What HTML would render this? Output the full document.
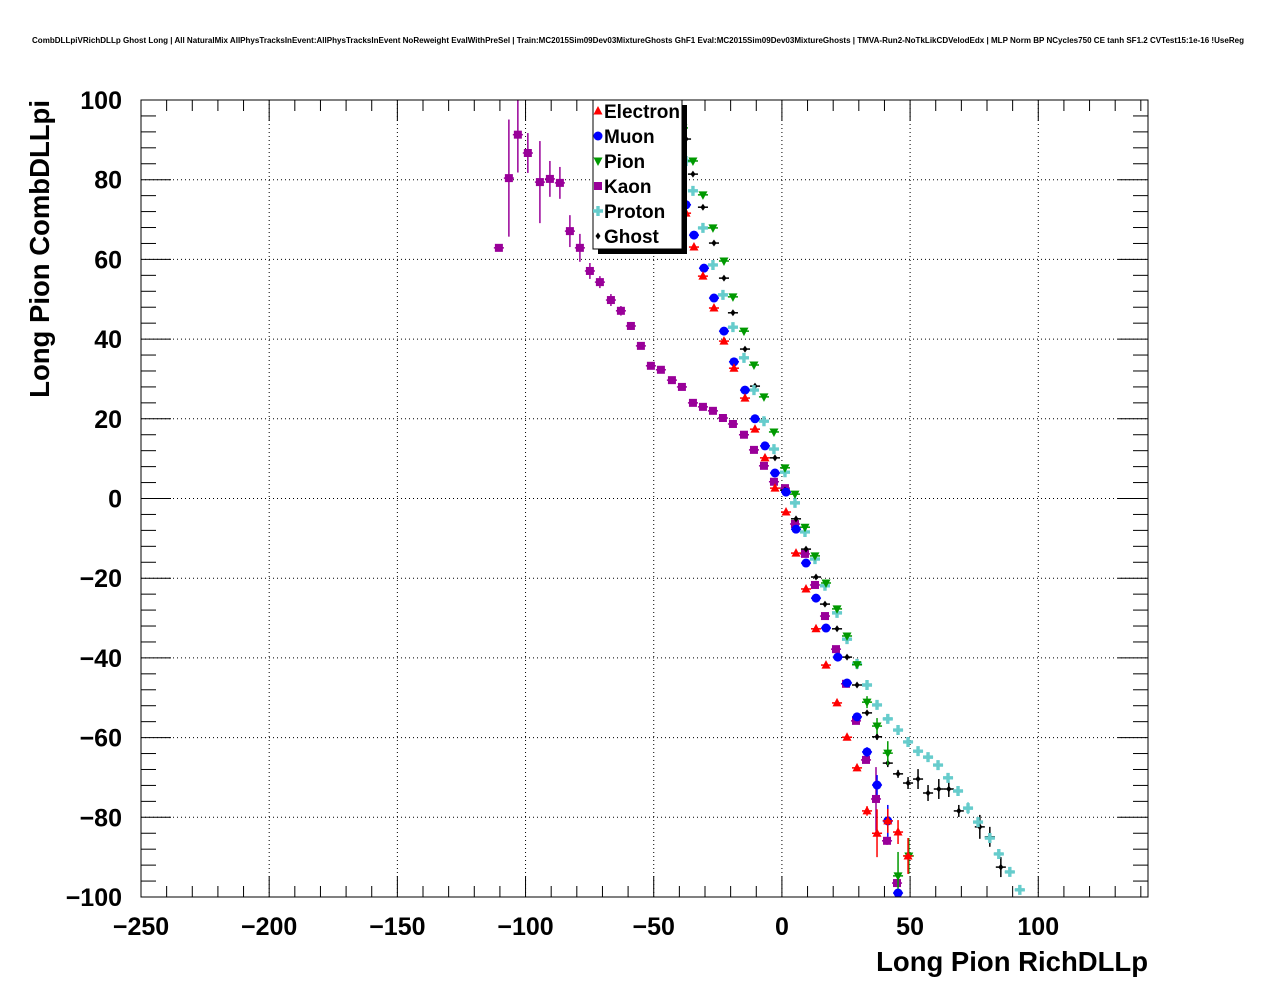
<!DOCTYPE html>
<html><head><meta charset="utf-8">
<style>
html,body{margin:0;padding:0;background:#fff;}
svg{display:block;font-family:"Liberation Sans",sans-serif;}
</style></head>
<body>
<svg id="chart" width="1276" height="996" viewBox="0 0 1276 996" xmlns="http://www.w3.org/2000/svg">
<rect x="0" y="0" width="1276" height="996" fill="#fff"/>
<text x="638" y="43" font-size="8" font-weight="bold" text-anchor="middle" textLength="1212" lengthAdjust="spacingAndGlyphs">CombDLLpiVRichDLLp Ghost Long | All NaturalMix AllPhysTracksInEvent:AllPhysTracksInEvent NoReweight EvalWithPreSel | Train:MC2015Sim09Dev03MixtureGhosts GhF1 Eval:MC2015Sim09Dev03MixtureGhosts | TMVA-Run2-NoTkLikCDVelodEdx | MLP Norm BP NCycles750 CE tanh SF1.2 CVTest15:1e-16 !UseReg</text>
<defs><clipPath id="plotclip"><rect x="141" y="100" width="1007" height="797"/></clipPath></defs>
<g id="grid"></g>
<g id="axes"></g>
<g id="marks" clip-path="url(#plotclip)"></g>
<rect x="141" y="100" width="1007" height="797" fill="none" stroke="#000" stroke-width="1"/>
<text x="1148" y="971" font-size="27.5" font-weight="bold" text-anchor="end">Long Pion RichDLLp</text>
<text transform="translate(49,100) rotate(-90)" font-size="27.5" font-weight="bold" text-anchor="end">Long Pion CombDLLpi</text>
<g id="legend"></g>
</svg>
<script>
const xTicks=[-250,-200,-150,-100,-50,0,50,100];
const yTicks=[-100,-80,-60,-40,-20,0,20,40,60,80,100];
const xMin=-250,xMax=142.8,yMin=-100,yMax=100;
const halfBin=1.96;

const eX=[-37.4,-34.3,-30.8,-26.5,-22.6,-18.7,-14.4,-10.5,-6.6,-2.7,1.6,5.5,9.4,13.3,17.2,21.5,25.4,29.3,33.2,37.1,41.3,45.3,49.2];
const eY=[71.6,63.1,55.8,47.8,39.5,32.7,25.2,17.4,10.2,2.6,-3.4,-13.7,-22.7,-32.7,-41.8,-51.3,-59.9,-67.6,-78.4,-84.0,-80.9,-83.7,-89.7];
const eErr=[0.4,0.4,0.4,0.4,0.4,0.4,0.4,0.4,0.4,0.4,0.4,0.4,0.4,0.4,0.4,0.5,0.6,0.8,1.2,6,3,3,4.5];

const mX=[-37.4,-34.3,-30.4,-26.5,-22.6,-18.7,-14.4,-10.5,-6.6,-2.7,1.6,5.5,9.4,13.3,17.2,21.8,25.4,29.3,33.2,37.1,41.3,45.3];
const mY=[73.7,66.1,57.8,50.3,42.0,34.3,27.2,20.0,13.2,6.4,1.6,-7.7,-16.2,-25.0,-32.5,-39.8,-46.3,-54.8,-63.6,-71.9,-80.9,-99.0];
const mErr=[0.4,0.4,0.4,0.4,0.4,0.4,0.4,0.4,0.4,0.4,0.4,0.4,0.4,0.4,0.4,0.5,0.6,0.8,1.2,2.5,4,1];

const pX=[-38.6,-34.7,-30.8,-26.9,-22.6,-19.1,-14.8,-10.9,-7.0,-3.1,1.2,5.1,9.0,12.9,17.2,21.5,25.4,29.3,33.2,37.1,41.3,45.3,49.5];
const pY=[93.0,84.7,76.2,67.9,59.6,50.6,42.0,33.5,25.5,16.7,7.7,1.1,-7.2,-14.4,-21.2,-27.7,-34.5,-41.7,-51.1,-57.1,-63.9,-94.7,-89.7];
const pErr=[0.4,0.4,0.4,0.4,0.4,0.4,0.4,0.4,0.4,0.4,0.4,0.4,0.4,0.4,0.4,0.5,0.6,0.8,1.5,2,3,6,4.5];

const kX=[-110.4,-106.5,-103.0,-99.1,-94.4,-90.5,-86.6,-82.7,-78.8,-74.9,-71.0,-66.7,-62.8,-58.9,-55.0,-51.1,-47.2,-42.9,-39.0,-34.7,-30.8,-26.9,-23.0,-19.1,-14.8,-10.9,-7.0,-3.1,1.2,5.1,9.0,12.9,16.8,21.1,25.0,28.9,32.8,36.7,41.0,44.9];
const kY=[62.9,80.4,91.3,86.7,79.4,80.2,79.2,67.1,62.9,57.1,54.3,49.8,47.1,43.3,38.3,33.3,32.3,29.7,28.0,24.0,23.0,22.0,20.2,18.7,16.0,12.2,8.2,4.2,2.6,-6.4,-13.9,-21.7,-29.5,-37.8,-46.5,-55.8,-65.6,-75.4,-85.9,-96.5];
const kErr=[0.3,14.7,9.5,5,10.3,4.5,4,4,3.5,2,1.5,1.5,1.2,1,0.8,0.6,0.6,0.5,0.5,0.5,0.5,0.5,0.5,0.5,0.5,0.5,0.5,0.5,0.5,0.5,0.5,0.5,0.5,0.5,0.5,0.6,0.8,8,1,1];

const prX=[-37.4,-34.7,-30.8,-26.9,-23.0,-19.1,-14.8,-10.9,-7.0,-3.1,1.2,5.1,9.0,12.9,16.8,21.5,25.4,29.3,33.2,37.1,41.3,45.3,49.2,53.1,57.0,60.9,64.8,68.7,72.6,76.5,81.1,84.6,88.9,92.8];
const prY=[84.7,77.2,67.9,58.6,51.1,43.0,35.3,27.2,19.4,12.4,6.6,-1.1,-8.4,-15.2,-21.9,-28.7,-35.3,-41.5,-46.8,-51.8,-55.3,-58.1,-61.1,-63.4,-64.9,-66.9,-70.1,-73.4,-77.7,-81.2,-85.2,-89.2,-93.7,-98.2];
const prErr=[1,1,0.5,0.5,0.5,0.5,0.5,0.5,0.5,0.5,0.5,0.5,0.5,0.5,0.5,0.5,0.5,0.5,0.5,0.5,0.5,0.5,0.5,0.5,0.5,0.5,0.5,0.5,1.5,0.8,0.8,0.8,0.8,0.8];

const gX=[-37.4,-34.7,-30.8,-26.5,-22.6,-19.1,-14.4,-10.5,-2.7,1.2,5.5,9.4,13.3,16.8,21.5,25.4,29.3,33.2,37.1,41.3,45.3,49.2,53.1,57.0,61.2,65.1,69.0,77.2,81.1,85.4];
const gY=[90.2,81.4,73.1,64.1,55.3,46.6,37.5,28.2,10.2,2.1,-5.1,-12.7,-19.7,-26.5,-32.7,-39.8,-46.8,-53.8,-59.8,-66.4,-69.1,-71.4,-70.4,-73.9,-72.9,-72.9,-78.4,-82.4,-84.9,-92.5];
const gErr=[0.4,0.4,0.4,0.4,0.4,0.4,0.4,0.4,0.4,0.4,0.4,0.4,0.4,0.4,0.4,0.4,0.5,0.6,0.8,1,1,1.5,2.5,2,2.5,2,1.5,3,2.5,2.5];

const L=141,R=1148,T=100,B=897;
function sx(v){return L+(v-xMin)/(xMax-xMin)*(R-L);}
function sy(v){return B-(v-yMin)/(yMax-yMin)*(B-T);}
const NS="http://www.w3.org/2000/svg";
function mk(tag,attrs,parent){const e=document.createElementNS(NS,tag);for(const k in attrs)e.setAttribute(k,attrs[k]);parent.appendChild(e);return e;}

const grid=document.getElementById('grid');
const axes=document.getElementById('axes');
xTicks.forEach(t=>{
  const x=sx(t);
  if(t>xMin){const g=mk('line',{x1:x,x2:x,y1:T,y2:B,stroke:'#000','stroke-width':1,'stroke-dasharray':'1,3'},grid);
  
  }
  const lb=mk('text',{x:x,y:935,'font-size':25,'font-weight':'bold','text-anchor':'middle'},axes);
  
  
  lb.textContent=(t<0?'\u2212'+(-t):String(t));
});
yTicks.forEach(t=>{
  const y=sy(t);
  if(t>yMin&&t<yMax){const g=mk('line',{x1:L,x2:R,y1:y,y2:y,stroke:'#000','stroke-width':1,'stroke-dasharray':'1,3'},grid);
  
  }
  const lb=mk('text',{x:122,y:y+9,'font-size':25,'font-weight':'bold','text-anchor':'end'},axes);
  
  
  lb.textContent=(t<0?'\u2212'+(-t):String(t));
});
for(let v=-250;v<=140;v+=10){
  const x=sx(v);const len=(v%50===0)?21:11;
  const a=mk('line',{x1:x,x2:x,y1:B,y2:B-len,stroke:'#000','stroke-width':1},axes);
  
  
  const b=mk('line',{x1:x,x2:x,y1:T,y2:T+len,stroke:'#000','stroke-width':1},axes);
  
  
}
for(let v=-100;v<=100;v+=4){
  const y=sy(v);const len=(v%20===0)?30:15;
  const a=mk('line',{x1:L,x2:L+len,y1:y,y2:y,stroke:'#000','stroke-width':1},axes);
  
  
  const b=mk('line',{x1:R,x2:R-len,y1:y,y2:y,stroke:'#000','stroke-width':1},axes);
  
  
}

function marker(kind,x,y,color,parent){
  let e;
  if(kind==='tri-up') e=mk('polygon',{points:`${x},${y-5} ${x-4.5},${y+3.5} ${x+4.5},${y+3.5}`,fill:color},parent);
  else if(kind==='tri-down') e=mk('polygon',{points:`${x},${y+5} ${x-4.5},${y-3.5} ${x+4.5},${y-3.5}`,fill:color},parent);
  else if(kind==='circle') e=mk('circle',{cx:x,cy:y,r:4.5,fill:color},parent);
  else if(kind==='square') e=mk('rect',{x:x-4,y:y-4,width:8,height:8,fill:color},parent);
  else if(kind==='cross') e=mk('path',{d:`M${x-5},${y-1.7}h3.3v-3.3h3.4v3.3h3.3v3.4h-3.3v3.3h-3.4v-3.3h-3.3z`,fill:color},parent);
  else e=mk('polygon',{points:`${x},${y-3.5} ${x+2.5},${y} ${x},${y+3.5} ${x-2.5},${y}`,fill:color},parent);
  return e;
}
const marks=document.getElementById('marks');
function series(name,xs,ys,errs,kind,color){
  const g=mk('g',{},marks);
  
  
  for(let i=0;i<xs.length;i++){
    const x=sx(xs[i]),y=sy(ys[i]);
    const h=mk('line',{x1:sx(xs[i]-halfBin),x2:sx(xs[i]+halfBin),y1:y,y2:y,stroke:color,'stroke-width':1.5},g);
    
    
    const v=mk('line',{x1:x,x2:x,y1:sy(ys[i]+errs[i]),y2:sy(ys[i]-errs[i]),stroke:color,'stroke-width':1.5},g);
    
    
    const m=marker(kind,x,y,color,g);
    
    
  }
}
series('kaon',kX,kY,kErr,'square','#990099');
series('ghost',gX,gY,gErr,'diamond','#000000');
series('proton',prX,prY,prErr,'cross','#66cccc');
series('pion',pX,pY,pErr,'tri-down','#009900');
series('muon',mX,mY,mErr,'circle','#0000ff');
series('electron',eX,eY,eErr,'tri-up','#ff0000');

const leg=document.getElementById('legend');
const sh=mk('rect',{x:598,y:105,width:89,height:149,fill:'#000'},leg);


const bx=mk('rect',{x:593,y:100,width:89,height:149,fill:'#fff',stroke:'#000','stroke-width':1},leg);


const entries=[['Electron','tri-up','#ff0000'],['Muon','circle','#0000ff'],['Pion','tri-down','#009900'],['Kaon','square','#990099'],['Proton','cross','#66cccc'],['Ghost','diamond','#000000']];
entries.forEach((en,i)=>{
  const y=111+i*25;
  const g=mk('g',{},leg);
  
  
  marker(en[1],598,y,en[2],g);
  const t=mk('text',{x:604,y:y+7,'font-size':19,'font-weight':'bold'},g);
  t.textContent=en[0];
});
</script>
</body></html>
